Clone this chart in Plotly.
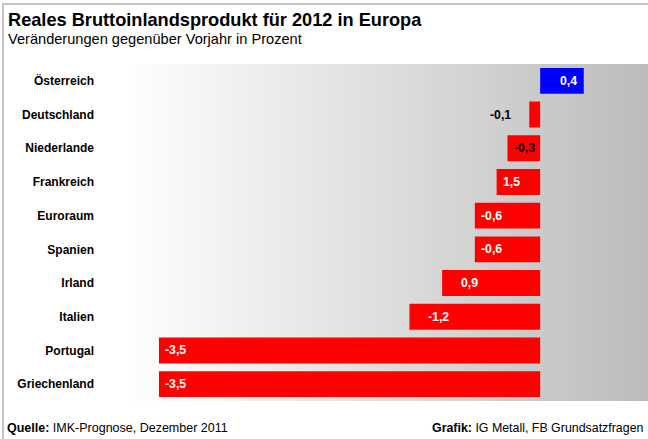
import plotly.graph_objects as go

# Real GDP 2012, change vs. previous year in percent (IMK forecast, Dec 2011)
countries = ["Österreich", "Deutschland", "Niederlande", "Frankreich", "Euroraum",
             "Spanien", "Irland", "Italien", "Portugal", "Griechenland"]
values = [0.4, -0.1, -0.3, -0.4, -0.6, -0.6, -0.9, -1.2, -3.5, -3.5]
value_labels = ["0,4", "-0,1", "-0,3", "1,5", "-0,6", "-0,6", "0,9", "-1,2", "-3,5", "-3,5"]
bar_colors = ["#0000ff"] + ["#ff0000"] * 9

# label placement per bar: (anchor at bar end or at zero, xanchor, pixel shift, colour)
label_style = [
    ("end", "right", -5, "white"),
    ("end", "right", -16, "black"),
    ("zero", "right", -3, "black"),
    ("end", "left", 4, "white"),
    ("end", "left", 4, "white"),
    ("end", "left", 4, "white"),
    ("end", "left", 17, "white"),
    ("end", "left", 17, "white"),
    ("end", "left", 4, "white"),
    ("end", "left", 4, "white"),
]

FONT = "Liberation Sans, Arial, sans-serif"
W, H = 648, 439
L, T, B = 123, 64, 38
PW, PH = W - L, H - T - B

fig = go.Figure()
fig.add_trace(go.Bar(
    x=values, y=countries, orientation="h",
    marker=dict(color=bar_colors, line=dict(width=0)),
    hoverinfo="skip",
))

shapes = []
# horizontal white-to-grey gradient behind the bars
n = 105
for i in range(n):
    t = (i + 0.5) / n
    v = int(round(255 - 67 * t))
    shapes.append(dict(type="rect", xref="paper", yref="paper",
                       x0=i / n, x1=(i + 1) / n + 0.002, y0=0, y1=1,
                       fillcolor=f"rgb({v},{v},{v})", line=dict(width=0), layer="below"))
# outer frame
shapes.append(dict(type="rect", xref="paper", yref="paper",
                   x0=(3 - L) / PW, x1=(W + 20 - L) / PW,
                   y0=-0.3, y1=(T + PH - 4) / PH,
                   line=dict(color="#c4c4c4", width=2), fillcolor="rgba(0,0,0,0)", layer="below"))

annotations = []
for c, v, lab, (ref, xa, sh, col) in zip(countries, values, value_labels, label_style):
    annotations.append(dict(
        x=v if ref == "end" else 0, y=c, xref="x", yref="y",
        text=f"<b>{lab}</b>", showarrow=False, xanchor=xa, yanchor="middle",
        xshift=sh, font=dict(family=FONT, size=12.3, color=col)))


def px_note(text, px, py, size, xanchor="left"):
    return dict(xref="paper", yref="paper", x=0, y=1, xshift=px - L, yshift=T - py,
                text=text, showarrow=False, xanchor=xanchor, yanchor="middle",
                font=dict(family=FONT, size=size, color="black"))


annotations.append(px_note("<b>Reales Bruttoinlandsprodukt für 2012 in Europa</b>", 6, 20, 18.2))
annotations.append(px_note("Veränderungen gegenüber Vorjahr in Prozent", 6, 39, 14.6))
annotations.append(px_note("<b>Quelle:</b> IMK-Prognose, Dezember 2011", 5, 428, 12.5))
annotations.append(px_note("<b>Grafik:</b> IG Metall, FB Grundsatzfragen", 646, 428, 12.4,
                           xanchor="right"))

fig.update_layout(
    width=W, height=H,
    margin=dict(l=L, r=0, t=T, b=B, pad=0),
    paper_bgcolor="white", plot_bgcolor="rgba(0,0,0,0)",
    showlegend=False, bargap=0.23,
    shapes=shapes, annotations=annotations,
    font=dict(family=FONT, size=12, color="black"),
    xaxis=dict(range=[-3.83, 0.99], visible=False, fixedrange=True),
    yaxis=dict(autorange="reversed", showgrid=False, zeroline=False, showline=False,
               ticks="", ticklabelstandoff=28,
               tickfont=dict(family=FONT, size=12, color="black"),
               tickprefix="<b>", ticksuffix="</b>", fixedrange=True),
)

fig.write_html("out.html", config={"displayModeBar": False})
